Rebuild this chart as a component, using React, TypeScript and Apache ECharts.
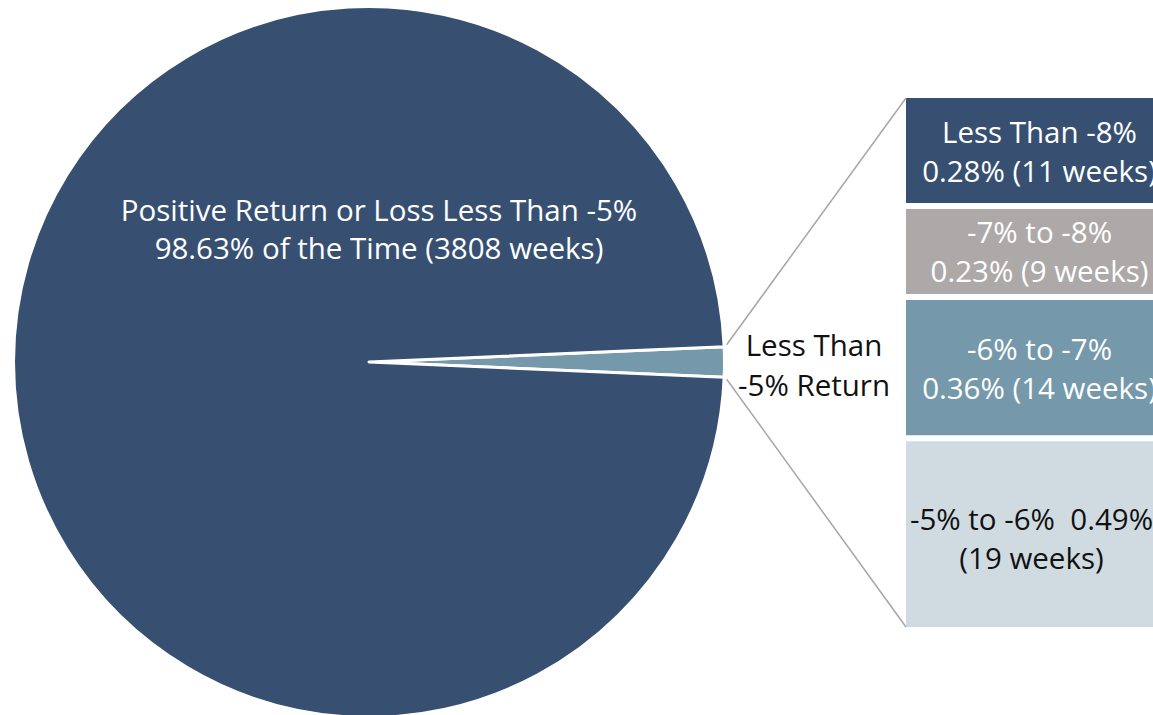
import React, { useEffect, useRef } from "react";
import * as echarts from "echarts";

const pieCategories = ["Less Than -5% Return", "Positive Return or Loss Less Than -5%"];
const pieWeeks = [53, 3808];
const piePercents = ["1.37%", "98.63%"];
const pieColors = ["#7599AA", "#375072"];

const barCategories = ["-5% to -6%", "-6% to -7%", "-7% to -8%", "Less Than -8%"];
const barWeeks = [19, 14, 9, 11];
const barPercents = ["0.49%", "0.36%", "0.23%", "0.28%"];
const barColors = ["#CFDBE1", "#7599AA", "#ADA9A8", "#375072"];
const barLabelColors = ["#111111", "#ffffff", "#ffffff", "#ffffff"];

const FONT = "Open Sans";
const FS = 29.5;

export default function App() {
  const ref = useRef<HTMLDivElement>(null);
  useEffect(() => {
    if (!ref.current) return;
    const chart = echarts.init(ref.current, null, { renderer: "svg" });
    const total = pieWeeks.reduce((a, b) => a + b, 0);
    const smallAngle = (pieWeeks[0] / total) * 360;
    const cx = 369, cy = 362, r = 355.5;
    const a = (smallAngle / 2) * Math.PI / 180;
    const ex = cx + (r - 1.5) * Math.cos(a) + 4;
    const eyTop = cy - (r - 1.5) * Math.sin(a) - 2;
    const eyBot = cy + (r - 1.5) * Math.sin(a) + 2;
    const gridLeft = 903, gridTop = 95, gridW = 273, gridH = 535;

    const barSeries = barCategories.map((cat, i) => ({
      name: cat,
      type: "bar",
      stack: "s",
      barWidth: "100%",
      data: [barWeeks[i]],
      itemStyle: { color: barColors[i], borderColor: "#ffffff", borderWidth: 3 },
      label: {
        show: true,
        position: "inside",
        offset: i === 0 ? [-8, 4] : [0, 0],
        color: barLabelColors[i],
        fontFamily: FONT,
        fontSize: FS,
        lineHeight: 39,
        formatter:
          i === 0
            ? `${cat}  ${barPercents[i]}\n(${barWeeks[i]} weeks)`
            : `${cat}\n${barPercents[i]} (${barWeeks[i]} weeks)`,
      },
      silent: true,
    }));

    chart.setOption({
      animation: false,
      grid: { left: gridLeft, top: gridTop, width: gridW, height: gridH, outerBoundsMode: "none", containLabel: false },
      xAxis: { type: "category", data: ["x"], show: false },
      yAxis: { type: "value", min: 0, max: barWeeks.reduce((s, v) => s + v, 0), show: false },
      series: [
        {
          type: "pie",
          center: [cx, cy],
          radius: r,
          startAngle: smallAngle / 2,
          clockwise: true,
          label: { show: false },
          labelLine: { show: false },
          silent: true,
          itemStyle: { borderColor: "#ffffff", borderWidth: 3 },
          data: pieCategories.map((n, i) => ({
            name: n,
            value: pieWeeks[i],
            itemStyle: { color: pieColors[i] },
          })),
        },
        ...barSeries,
      ],
      graphic: [
        {
          type: "line",
          z: 100,
          shape: { x1: ex, y1: eyTop, x2: gridLeft + 3, y2: gridTop + 3 },
          style: { stroke: "#A6A6A6", lineWidth: 1.5 },
        },
        {
          type: "line",
          z: 100,
          shape: { x1: ex, y1: eyBot, x2: gridLeft + 3, y2: gridTop + gridH - 3 },
          style: { stroke: "#A6A6A6", lineWidth: 1.5 },
        },
        {
          type: "text",
          z: 100,
          x: 379,
          y: 228,
          style: {
            text: `${pieCategories[1]}\n${piePercents[1]} of the Time (${pieWeeks[1]} weeks)`,
            fill: "#ffffff",
            fontFamily: FONT,
            fontSize: FS,
            lineHeight: 38,
            align: "center",
            verticalAlign: "middle",
          },
        },
        {
          type: "text",
          z: 100,
          x: 814,
          y: 364,
          style: {
            text: "Less Than\n-5% Return",
            fill: "#111111",
            fontFamily: FONT,
            fontSize: FS,
            lineHeight: 40,
            align: "center",
            verticalAlign: "middle",
          },
        },
      ],
    });
    return () => chart.dispose();
  }, []);
  return (
    <div
      ref={ref}
      style={{ position: "absolute", left: 0, top: 0, width: 1153, height: 715, background: "#ffffff" }}
    />
  );
}
